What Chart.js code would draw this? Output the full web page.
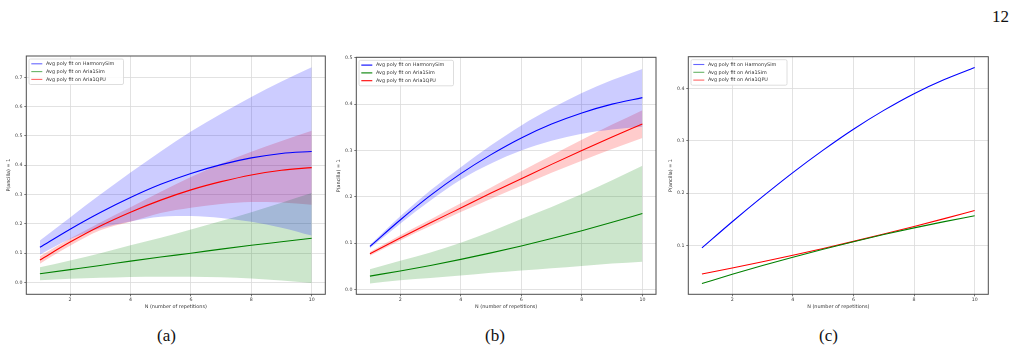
<!DOCTYPE html>
<html><head><meta charset="utf-8">
<script src="https://cdn.jsdelivr.net/npm/chart.js@4/dist/chart.umd.min.js"></script>
<style>
html,body{margin:0;padding:0;background:#fff;}
#page{position:relative;width:1011px;height:352px;overflow:hidden;background:#fff;}
canvas{position:absolute;}
.cap{position:absolute;font-family:"Liberation Serif","DejaVu Serif",serif;font-size:17px;color:#111;line-height:1;}
</style></head><body>
<div id="page">
<div class="cap" style="right:2px;top:8px;">12</div>
<div class="cap" style="left:157px;top:327px;">(a)</div>
<div class="cap" style="left:485px;top:327px;">(b)</div>
<div class="cap" style="left:819px;top:327px;">(c)</div>
<canvas id="ca"></canvas>
<canvas id="cb"></canvas>
<canvas id="cc"></canvas>
</div>
<script>
// ---------- data ----------
const xValues = [1, 2, 3, 4, 5, 6, 7, 8, 9, 10];
const xTicks = [2, 4, 6, 8, 10];
const legendLabels = ['Avg poly fit on HarmonySim', 'Avg poly fit on Aria1Sim', 'Avg poly fit on Aria1QPU'];
const xTitle = 'N (number of repetitions)';
const yTitle = 'P(ancilla) = 1';

// panel (a)
const aYTicks = [0.0, 0.1, 0.2, 0.3, 0.4, 0.5, 0.6, 0.7];
const aHarmony   = [0.120, 0.182, 0.239, 0.290, 0.335, 0.372, 0.402, 0.425, 0.440, 0.447];
const aHarmonyHi = [0.143, 0.222, 0.300, 0.375, 0.447, 0.515, 0.576, 0.633, 0.686, 0.734];
const aHarmonyLo = [0.095, 0.148, 0.185, 0.208, 0.224, 0.227, 0.220, 0.207, 0.187, 0.160];
const aSim       = [0.030, 0.044, 0.058, 0.073, 0.087, 0.100, 0.114, 0.127, 0.139, 0.151];
const aSimHi     = [0.052, 0.075, 0.100, 0.127, 0.153, 0.181, 0.210, 0.240, 0.272, 0.305];
const aSimLo     = [0.008, 0.013, 0.016, 0.019, 0.020, 0.020, 0.018, 0.014, 0.007, -0.002];
const aQpu       = [0.077, 0.138, 0.193, 0.240, 0.281, 0.316, 0.344, 0.367, 0.383, 0.392];
const aQpuHi     = [0.090, 0.150, 0.205, 0.257, 0.310, 0.360, 0.405, 0.446, 0.483, 0.518];
const aQpuLo     = [0.064, 0.125, 0.178, 0.207, 0.237, 0.255, 0.268, 0.275, 0.273, 0.265];

// panel (b)
const bYTicks = [0.0, 0.1, 0.2, 0.3, 0.4, 0.5];
const bHarmony   = [0.093, 0.150, 0.203, 0.250, 0.291, 0.327, 0.357, 0.381, 0.400, 0.414];
const bHarmonyHi = [0.096, 0.158, 0.214, 0.264, 0.311, 0.354, 0.391, 0.424, 0.452, 0.476];
const bHarmonyLo = [0.089, 0.142, 0.192, 0.237, 0.272, 0.300, 0.321, 0.336, 0.345, 0.351];
const bSim       = [0.029, 0.040, 0.052, 0.065, 0.079, 0.094, 0.110, 0.127, 0.145, 0.164];
const bSimHi     = [0.044, 0.062, 0.080, 0.101, 0.125, 0.152, 0.178, 0.206, 0.236, 0.267];
const bSimLo     = [0.013, 0.020, 0.025, 0.030, 0.036, 0.041, 0.046, 0.051, 0.056, 0.060];
const bQpu       = [0.077, 0.111, 0.144, 0.176, 0.208, 0.239, 0.270, 0.300, 0.329, 0.357];
const bQpuHi     = [0.081, 0.117, 0.151, 0.186, 0.220, 0.255, 0.289, 0.323, 0.356, 0.387];
const bQpuLo     = [0.073, 0.106, 0.137, 0.167, 0.196, 0.224, 0.252, 0.278, 0.303, 0.327];

// panel (c)
const cYTicks = [0.1, 0.2, 0.3, 0.4];
const cHarmony = [0.095, 0.145, 0.193, 0.239, 0.282, 0.322, 0.358, 0.390, 0.417, 0.440];
const cSim     = [0.027, 0.0445, 0.0613, 0.0773, 0.0925, 0.1069, 0.1205, 0.1333, 0.1453, 0.1565];
const cQpu     = [0.045, 0.0565, 0.0685, 0.081, 0.094, 0.1075, 0.1215, 0.136, 0.151, 0.1665];

// ---------- rendering ----------
Chart.defaults.font.family = "'DejaVu Sans', sans-serif";
const LINE_COLORS = ['#0000ff', '#008000', '#ff0000'];
const BAND_COLORS = ['rgba(0,0,255,0.2)', 'rgba(0,128,0,0.2)', 'rgba(255,0,0,0.2)'];

const pts = arr => xValues.map((x, i) => ({x: x, y: arr[i]}));

const framePlugin = {
  id: 'frameLegend',
  afterDatasetsDraw(chart, args, opts) {
    const ctx = chart.ctx;
    const {left, top, right, bottom} = chart.chartArea;
    ctx.save();
    ctx.strokeStyle = '#4d4d4d';
    ctx.lineWidth = 1;
    ctx.strokeRect(left, top, right - left, bottom - top);
    // legend
    const bx = left + 2.7, by = top + 3, bw = opts.boxWidth, bh = 25.5;
    ctx.fillStyle = 'rgba(255,255,255,0.85)';
    ctx.strokeStyle = '#d6d6d6';
    ctx.lineWidth = 0.8;
    ctx.beginPath();
    if (ctx.roundRect) ctx.roundRect(bx, by, bw, bh, 1.5); else ctx.rect(bx, by, bw, bh);
    ctx.fill(); ctx.stroke();
    ctx.font = "4.9px 'DejaVu Sans'";
    ctx.textBaseline = 'middle';
    ctx.textAlign = 'left';
    legendLabels.forEach((lab, i) => {
      const yy = by + 4.8 + i * 7.8;
      ctx.globalAlpha = opts.handleAlpha;
      ctx.strokeStyle = LINE_COLORS[i];
      ctx.lineWidth = 1.1;
      ctx.beginPath(); ctx.moveTo(bx + 2.3, yy); ctx.lineTo(bx + 13.3, yy); ctx.stroke();
      ctx.globalAlpha = 1;
      ctx.fillStyle = '#333';
      ctx.fillText(lab, bx + 17, yy);
    });
    ctx.restore();
  }
};

function makePanel(id, geo, yMin, yMax, yTicks, lines, bands, legendOpts) {
  const canvas = document.getElementById(id);
  const canvasTop = 40, canvasBottom = 315;
  const cl = geo.canvasLeft;
  const cw = Math.ceil(geo.R + 10 - cl);
  canvas.width = cw; canvas.height = canvasBottom - canvasTop;
  canvas.style.left = cl + 'px'; canvas.style.top = canvasTop + 'px';
  canvas.style.width = cw + 'px'; canvas.style.height = (canvasBottom - canvasTop) + 'px';

  const datasets = [];
  lines.forEach((arr, i) => {
    datasets.push({label: legendLabels[i], data: pts(arr), borderColor: LINE_COLORS[i],
      borderWidth: 1.1, pointRadius: 0, fill: false, cubicInterpolationMode: 'monotone'});
  });
  bands.forEach(([hi, lo], i) => {
    datasets.push({label: 'hi' + i, data: pts(hi), borderColor: 'transparent', borderWidth: 0,
      pointRadius: 0, backgroundColor: BAND_COLORS[i], fill: '+1', cubicInterpolationMode: 'monotone'});
    datasets.push({label: 'lo' + i, data: pts(lo), borderColor: 'transparent', borderWidth: 0,
      pointRadius: 0, fill: false, cubicInterpolationMode: 'monotone'});
  });

  const tickFont = {size: 4.7};
  new Chart(canvas, {
    type: 'line',
    data: {datasets},
    options: {
      responsive: false, animation: false, events: [],
      devicePixelRatio: 1,
      layout: {padding: {left: 0, top: geo.T - canvasTop, right: cl + cw - geo.R, bottom: 0}},
      plugins: {legend: {display: false}, tooltip: {enabled: false}, frameLegend: legendOpts},
      scales: {
        x: {
          type: 'linear', min: 0.55, max: 10.45,
          afterBuildTicks: s => { s.ticks = xTicks.map(v => ({value: v})); },
          afterFit: s => { s.height = canvasBottom - geo.B; },
          ticks: {font: tickFont, color: '#444', padding: 1, autoSkip: false, maxRotation: 0,
                  callback: v => String(v)},
          grid: {color: '#dadada', lineWidth: 0.8, tickColor: '#555', tickLength: 2},
          border: {display: false},
          title: {display: true, text: xTitle, font: {size: 4.9}, color: '#333', padding: {top: 0, bottom: 5.2}}
        },
        y: {
          type: 'linear', min: yMin, max: yMax,
          afterBuildTicks: s => { s.ticks = yTicks.map(v => ({value: v})); },
          afterFit: s => { s.width = geo.L - cl; },
          ticks: {font: tickFont, color: '#444', padding: 1.8, autoSkip: false,
                  callback: v => Number(v).toFixed(1)},
          grid: {color: '#dadada', lineWidth: 0.8, tickColor: '#555', tickLength: 2},
          border: {display: false},
          title: {display: true, text: yTitle, font: {size: 4.9}, color: '#333', padding: {top: 6, bottom: 0}}
        }
      }
    },
    plugins: [framePlugin]
  });
}

makePanel('ca', {canvasLeft: 0, L: 26.3, R: 325.3, T: 56, B: 294.3}, -0.0402, 0.7726, aYTicks,
  [aHarmony, aSim, aQpu], [[aHarmonyHi, aHarmonyLo], [aSimHi, aSimLo], [aQpuHi, aQpuLo]],
  {boxWidth: 94.5, handleAlpha: 0.6});
makePanel('cb', {canvasLeft: 330, L: 356.3, R: 656, T: 57.3, B: 294.3}, -0.0103, 0.501, bYTicks,
  [bHarmony, bSim, bQpu], [[bHarmonyHi, bHarmonyLo], [bSimHi, bSimLo], [bQpuHi, bQpuLo]],
  {boxWidth: 94.5, handleAlpha: 1});
makePanel('cc', {canvasLeft: 662, L: 688.3, R: 988.3, T: 56.7, B: 294.3}, 0.0063, 0.4607, cYTicks,
  [cHarmony, cSim, cQpu], [],
  {boxWidth: 96, handleAlpha: 0.6});
</script>
</body></html>
